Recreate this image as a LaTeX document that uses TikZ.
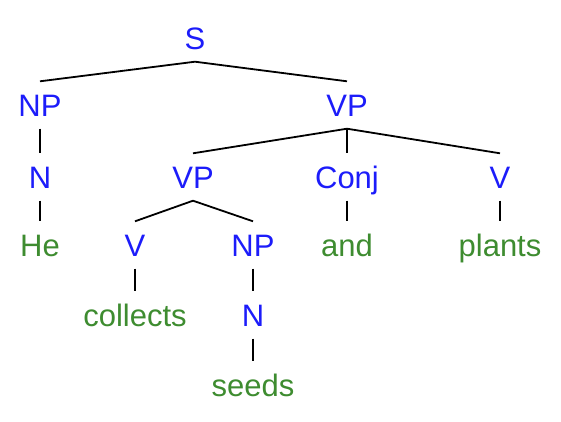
\documentclass[tikz,border=0pt]{standalone}
\usepackage{fontspec}
\setmainfont{Liberation Sans}
\definecolor{catblue}{RGB}{28,28,250}
\definecolor{wordgreen}{RGB}{62,140,48}
\begin{document}
\begin{tikzpicture}[x=1pt,y=-1pt,
		lab/.style={font=\fontsize{31}{36}\selectfont, text height=22pt, text depth=0pt, inner xsep=0pt, inner ysep=12.5pt},
		cat/.style={lab, text=catblue},
		word/.style={lab, text=wordgreen},
		edge/.style={line width=1.8pt}]
		\useasboundingbox (0,0) rectangle (561,421);
		\node[cat] (s) at (195,38) {S};
		\node[cat] (np) at (40,105) {NP};
		\node[cat] (vp) at (347,105) {VP};
		\node[cat] (n) at (40,177) {N};
		\node[cat] (vpa) at (193,177) {VP};
		\node[cat] (conj) at (347,177) {Conj};
		\node[cat] (vb) at (500,177) {V};
		\node[word] (he) at (40,245) {He};
		\node[cat] (va) at (135,245) {V};
		\node[cat] (npa) at (253,245) {NP};
		\node[word] (and) at (347,245) {and};
		\node[word] (plants) at (500,245) {plants};
		\node[word] (collects) at (135,315) {collects};
		\node[cat] (na) at (253,315) {N};
		\node[word] (seeds) at (253,385) {seeds};
		\draw[edge] (s.south) -- (np.north);
		\draw[edge] (s.south) -- (vp.north);
		\draw[edge] (np.south) -- (n.north);
		\draw[edge] (n.south) -- (he.north);
		\draw[edge] (vp.south) -- (vpa.north);
		\draw[edge] (vp.south) -- (conj.north);
		\draw[edge] (vp.south) -- (vb.north);
		\draw[edge] (vpa.south) -- (va.north);
		\draw[edge] (vpa.south) -- (npa.north);
		\draw[edge] (conj.south) -- (and.north);
		\draw[edge] (vb.south) -- (plants.north);
		\draw[edge] (va.south) -- (collects.north);
		\draw[edge] (npa.south) -- (na.north);
		\draw[edge] (na.south) -- (seeds.north);
	\end{tikzpicture}
\end{document}
